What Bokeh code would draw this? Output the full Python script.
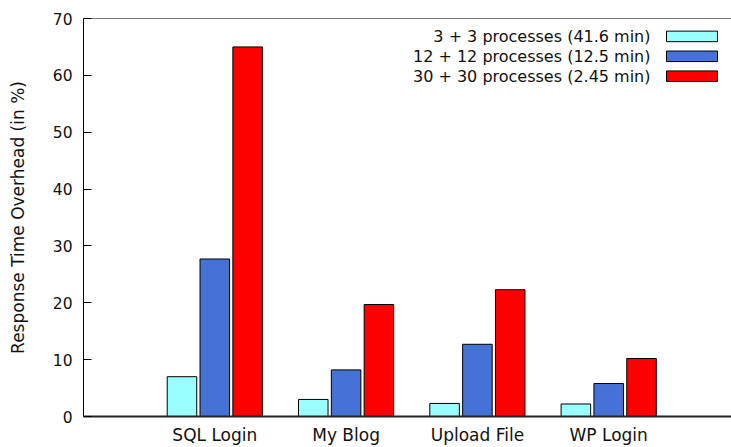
from bokeh.plotting import figure
from bokeh.models import Range1d, FixedTicker, Span, ColumnDataSource
from bokeh.core.properties import value
from bokeh.embed import file_html
from bokeh.resources import INLINE

# ---- data ----
categories = ["SQL Login", "My Blog", "Upload File", "WP Login"]
series_labels = [
    "3 + 3 processes (41.6 min)",
    "12 + 12 processes (12.5 min)",
    "30 + 30 processes (2.45 min)",
]
procs_3 = [7.0, 3.0, 2.3, 2.2]
procs_12 = [27.7, 8.2, 12.7, 5.8]
procs_30 = [65.0, 19.7, 22.3, 10.2]
y_ticks = [0, 10, 20, 30, 40, 50, 60, 70]

colors = ["#99ffff", "#4672d6", "#ff0000"]
FONT = "DejaVu Sans"

W, H = 731, 447
LEFT, TOP, BOTTOM = 83, 18, 29
X_END = (W - LEFT) / 131.3
p = figure(width=W, height=H, output_backend="svg", toolbar_location=None,
           x_range=Range1d(0, X_END), y_range=Range1d(0, 70),
           min_border_left=LEFT, min_border_right=0, min_border_top=TOP,
           min_border_bottom=BOTTOM)
p.outline_line_color = None
p.xgrid.visible = False
p.ygrid.visible = False

xs = [i + 1 for i in range(len(categories))]
offsets = [-0.25, 0.0, 0.25]
for vals, off, col in zip([procs_3, procs_12, procs_30], offsets, colors):
    src = ColumnDataSource(dict(x=[x + off for x in xs], top=vals))
    p.vbar(x="x", top="top", bottom=0, width=0.225, source=src,
           fill_color=col, line_color="black", line_width=1)

# x axis
p.xaxis.ticker = FixedTicker(ticks=xs)
p.xaxis.major_label_overrides = {x: c for x, c in zip(xs, categories)}
p.xaxis.major_tick_line_color = None
p.xaxis.minor_tick_line_color = None
p.xaxis.axis_line_color = "#222222"
p.xaxis.axis_line_width = 2
p.xaxis.major_label_standoff = 2
p.xaxis.major_label_text_font = FONT
p.xaxis.major_label_text_font_size = "17px"
p.xaxis.major_label_text_color = "#111111"

# y axis
p.yaxis.ticker = FixedTicker(ticks=y_ticks)
p.yaxis.major_tick_in = 8
p.yaxis.major_tick_out = 0
p.yaxis.minor_tick_line_color = None
p.yaxis.axis_line_color = "black"
p.yaxis.major_label_standoff = 11
p.yaxis.major_label_text_font = FONT
p.yaxis.major_label_text_font_size = "15.5px"
p.yaxis.major_label_text_color = "#111111"
p.yaxis.axis_label = "Response Time Overhead (in %)"
p.yaxis.axis_label_text_font = FONT
p.yaxis.axis_label_text_font_size = "17px"
p.yaxis.axis_label_text_font_style = "normal"
p.yaxis.axis_label_text_color = "#111111"
p.yaxis.axis_label_standoff = 22

# top border
p.add_layout(Span(location=70, dimension="width", line_color="black", line_width=1))

# ---- manual gnuplot-style legend (text right-aligned, key box on the right) ----
frame_w = W - LEFT
frame_h = 400.0
px_per_x = frame_w / X_END
px_per_y = frame_h / 70.0

def dx(px):
    return px / px_per_x

def dy(px):
    return px / px_per_y

text_right = X_END - dx(81)
box_left = X_END - dx(65)
box_right = X_END - dx(14)
row_centers = [70 - dy(18 + 20 * i) for i in range(3)]
box_half = dy(5.3)

p.text(x=[text_right] * 3, y=row_centers, text=series_labels,
       text_align="right", text_baseline="middle",
       text_font=value(FONT), text_font_size="16px", text_color="#111111")
p.quad(left=[box_left] * 3, right=[box_right] * 3,
       bottom=[c - box_half for c in row_centers],
       top=[c + box_half for c in row_centers],
       fill_color=colors, line_color="black", line_width=1)

open("out.html", "w").write(file_html(p, INLINE))
